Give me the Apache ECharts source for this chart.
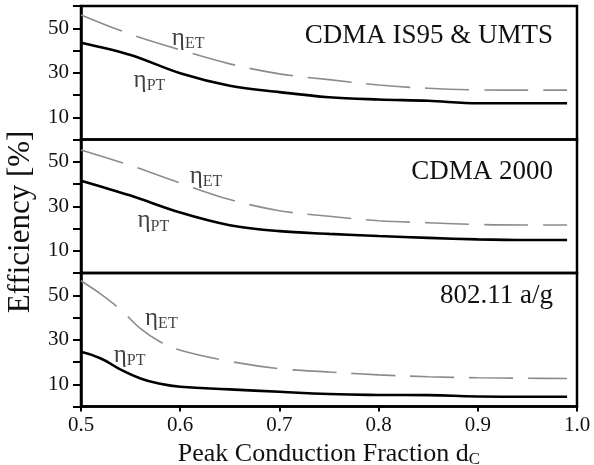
<!DOCTYPE html>
<html><head><meta charset="utf-8">
<script src="https://cdn.jsdelivr.net/npm/echarts@6/dist/echarts.min.js"></script>
<style>html,body{margin:0;padding:0;background:#fff}#c{width:594px;height:465px}</style>
</head><body><div id="c"></div>
<script>
// ---- data ----
const panelTitles = ['CDMA IS95 & UMTS', 'CDMA 2000', '802.11 a/g'];
const xTicks = [0.5, 0.6, 0.7, 0.8, 0.9, 1.0];
const yTickLabels = [10, 30, 50];

const xA = [0.5, 0.55, 0.6, 0.65, 0.7, 0.75, 0.8, 0.85, 0.9, 0.95, 0.99];
const pt1 = [43.5, 38.0, 29.8, 24.2, 21.3, 19.0, 18.0, 17.4, 16.3, 16.3, 16.3];
const et1 = [56.0, 47.3, 40.3, 34.0, 29.5, 26.9, 24.5, 23.0, 22.3, 22.2, 22.2];
const pt2 = [41.5, 34.8, 27.2, 21.5, 18.8, 17.6, 16.6, 15.8, 15.1, 14.8, 14.8];
const et2 = [55.3, 48.3, 40.4, 33.0, 28.0, 25.5, 23.5, 22.6, 21.8, 21.6, 21.6];
const xB = [0.5, 0.52, 0.54, 0.56, 0.58, 0.6, 0.65, 0.7, 0.75, 0.8, 0.85, 0.9, 0.95, 0.99];
const pt3 = [24.6, 21.6, 16.6, 12.6, 10.2, 8.9, 7.7, 6.6, 5.6, 5.2, 5.1, 4.5, 4.4, 4.4];
const et3 = [56.5, 50.5, 43.5, 35.0, 29.0, 25.3, 20.3, 17.0, 15.5, 14.2, 13.4, 12.9, 12.7, 12.6];

// label anchor positions (in data coordinates) for η labels
const etaET = [[0.608, 45.6], [0.626, 43.6], [0.581, 39.7]];
const etaPT = [[0.569, 26.7], [0.573, 23.4], [0.549, 23.1]];

const panels = [
  {x: xA, pt: pt1, et: et1},
  {x: xA, pt: pt2, et: et2},
  {x: xB, pt: pt3, et: et3}
];

const FONT = 'Liberation Serif';
const chart = echarts.init(document.getElementById('c'), null, {renderer: 'canvas'});
const tops = [6, 139.5, 273];
const H = 133.5;

const grids = tops.map(t => ({left: 81, right: 17, top: t, height: H, show: true,
  containLabel: false, outerBoundsMode: 'none',
  borderColor: '#000', borderWidth: 2.5, backgroundColor: 'transparent'}));

const xAxes = tops.map((t, i) => ({
  gridIndex: i, type: 'value', min: 0.5, max: 1.0, interval: 0.1,
  show: i === 2,
  axisLine: {show: true, lineStyle: {color: '#000', width: 2.5}},
  axisTick: {show: true, length: 5, lineStyle: {color: '#000', width: 2}},
  splitLine: {show: false},
  axisLabel: {show: i === 2, fontFamily: FONT, fontSize: 21, color: '#111', margin: 8,
    formatter: v => xTicks.some(t => Math.abs(t - v) < 1e-6) ? v.toFixed(1) : ''},
  name: i === 2 ? '{m|Peak Conduction Fraction d}{s|C}' : '',
  nameLocation: 'middle', nameGap: 33,
  nameTextStyle: {rich: {
    m: {fontFamily: FONT, fontSize: 26, color: '#111'},
    s: {fontFamily: FONT, fontSize: 17, color: '#111', padding: [12, 0, 0, 0]}
  }}
}));

const yAxes = tops.map((t, i) => ({
  gridIndex: i, type: 'value', min: 0, max: 60, interval: 10,
  axisLine: {show: true, lineStyle: {color: '#000', width: 2.5}},
  axisTick: {show: true, length: 8, lineStyle: {color: '#000', width: 2}},
  splitLine: {show: false},
  axisLabel: {fontFamily: FONT, fontSize: 21, color: '#111', margin: 12,
    formatter: v => yTickLabels.includes(v) ? String(v) : ''}
}));

const etaRich = {
  e: {fontFamily: FONT, fontSize: 25, color: '#111'},
  s: {fontFamily: FONT, fontSize: 16, color: '#111', padding: [12, 0, 0, 0]}
};

const series = [];
panels.forEach((p, i) => {
  series.push({
    type: 'line', xAxisIndex: i, yAxisIndex: i, smooth: 0.35, showSymbol: false, silent: true,
    data: p.x.map((x, k) => [x, p.et[k]]),
    lineStyle: {color: '#8c8c8c', width: 1.6, type: [44, 15]}
  });
  series.push({
    type: 'line', xAxisIndex: i, yAxisIndex: i, smooth: i === 2 ? 0.5 : 0.35, showSymbol: false, silent: true,
    data: p.x.map((x, k) => [x, p.pt[k]]),
    lineStyle: {color: '#000', width: 2.6}
  });
  series.push({
    type: 'scatter', xAxisIndex: i, yAxisIndex: i, symbolSize: 0, silent: true,
    data: [
      {value: etaET[i], label: {formatter: '{e|η}{s|ET}'}},
      {value: etaPT[i], label: {formatter: '{e|η}{s|PT}'}}
    ],
    label: {show: true, position: 'inside', rich: etaRich}
  });
});

const titleY = [36, 172, 296];
const graphic = panelTitles.map((t, i) => ({
  type: 'text', x: 553, y: titleY[i],
  style: {text: t, fontFamily: FONT, fontSize: 27, fill: '#111', textAlign: 'right', textVerticalAlign: 'middle'}
}));
graphic.push({
  type: 'text', x: 21, y: 222, rotation: Math.PI / 2,
  style: {text: 'Efficiency [%]', fontFamily: FONT, fontSize: 31, fill: '#111', textAlign: 'center', textVerticalAlign: 'middle'}
});

chart.setOption({
  animation: false,
  grid: grids, xAxis: xAxes, yAxis: yAxes, series: series, graphic: graphic
});
</script></body></html>
